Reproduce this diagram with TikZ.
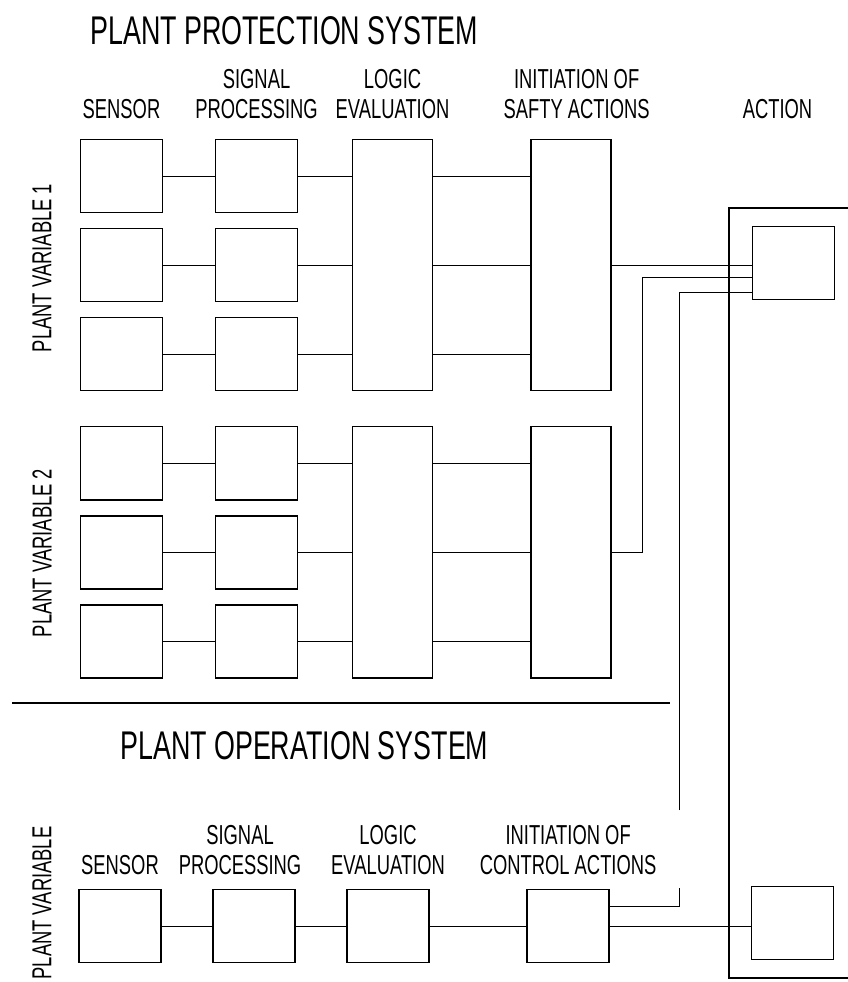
\documentclass[tikz,border=0pt]{standalone}
\usepackage{fontspec}
\setmainfont{Liberation Sans}[FakeStretch=0.67]
\usetikzlibrary{positioning, calc}

\begin{document}
\begin{tikzpicture}[
        x=0.025cm, y=-0.025cm,
        unit/.style={rectangle, draw=black, line width=1.3pt, minimum width=2.05cm, minimum height=1.825cm, inner sep=0pt, outer sep=0pt},
        tallunit/.style={unit, minimum width=2.0cm, minimum height=6.275cm},
        head/.style={inner sep=0pt, align=center, font=\fontsize{19.5}{21.3}\selectfont},
        title/.style={inner sep=0pt, anchor=base west, font=\fontsize{28.5}{30}\selectfont},
        line/.style={draw, line width=0.7pt},
        frame/.style={draw, line width=1.3pt}
    ]
        \useasboundingbox (0,0) rectangle (848,982);
        \clip (0,0) rectangle (848,982);

        % plant protection system
        \node [title] (pps) at (90,44) {PLANT PROTECTION SYSTEM};

        \node [unit] (sen1) at (121.5,176) {};
        \node [unit, below=0.4cm of sen1] (sen2) {};
        \node [unit, below=0.4cm of sen2] (sen3) {};
        \node [unit, below=0.9cm of sen3] (sen4) {};
        \node [unit, below=0.4cm of sen4] (sen5) {};
        \node [unit, below=0.4cm of sen5] (sen6) {};

        \node [unit, right=1.325cm of sen1] (sig1) {};
        \node [unit, right=1.325cm of sen2] (sig2) {};
        \node [unit, right=1.325cm of sen3] (sig3) {};
        \node [unit, right=1.325cm of sen4] (sig4) {};
        \node [unit, right=1.325cm of sen5] (sig5) {};
        \node [unit, right=1.325cm of sen6] (sig6) {};

        \node [tallunit, right=1.375cm of sig2] (log1) {};
        \node [tallunit, right=1.375cm of sig5] (log2) {};
        \node [tallunit, right=2.45cm of log1] (saf1) {};
        \node [tallunit, right=2.45cm of log2] (saf2) {};

        \node [head, above=0.52cm of sen1] (hsen) {SENSOR};
        \node [head, above=0.52cm of sig1] (hsig) {SIGNAL\\PROCESSING};
        \node [head, above=0.52cm of log1] (hlog) {LOGIC\\EVALUATION};
        \node [head, above=0.52cm of saf1, xshift=0.15cm] (hsaf) {INITIATION OF\\SAFTY ACTIONS};

        \node [head, rotate=90] (pv1) at (42,268) {PLANT VARIABLE 1};
        \node [head, rotate=90] (pv2) at (42,553) {PLANT VARIABLE 2};

        \path [line] (sen1) -- (sig1);
        \path [line] (sen2) -- (sig2);
        \path [line] (sen3) -- (sig3);
        \path [line] (sen4) -- (sig4);
        \path [line] (sen5) -- (sig5);
        \path [line] (sen6) -- (sig6);

        \path [line] (sig1) -- (sig1 -| log1.west);
        \path [line] (sig2) -- (sig2 -| log1.west);
        \path [line] (sig3) -- (sig3 -| log1.west);
        \path [line] (sig4) -- (sig4 -| log2.west);
        \path [line] (sig5) -- (sig5 -| log2.west);
        \path [line] (sig6) -- (sig6 -| log2.west);

        \path [line] (sig1 -| log1.east) -- (sig1 -| saf1.west);
        \path [line] (sig2 -| log1.east) -- (sig2 -| saf1.west);
        \path [line] (sig3 -| log1.east) -- (sig3 -| saf1.west);
        \path [line] (sig4 -| log2.east) -- (sig4 -| saf2.west);
        \path [line] (sig5 -| log2.east) -- (sig5 -| saf2.west);
        \path [line] (sig6 -| log2.east) -- (sig6 -| saf2.west);

        % action side
        \path [frame] (860,208) -| (729,978) -- (860,978);
        \node [unit] (act1) at (793.5,263) {};
        \node [unit] (act2) at (792.5,923) {};
        \node [head, anchor=south, xshift=-0.4cm] (hact) at (hsen.south -| act1) {ACTION};

        % plant operation system
        \coordinate (sepl) at (12,703);
        \coordinate (sepr) at (670,703);
        \path [frame] (sepl) -- (sepr);
        \node [title] (pos) at (120,759) {PLANT OPERATION SYSTEM};

        \node [unit] (bsen) at (120,926) {};
        \node [unit, right=1.3cm of bsen] (bsig) {};
        \node [unit, right=1.3cm of bsig] (blog) {};
        \node [unit, right=2.45cm of blog] (bctl) {};

        \node [head, above=0.35cm of bsen] (hbsen) {SENSOR};
        \node [head, above=0.35cm of bsig, xshift=-0.35cm] (hbsig) {SIGNAL\\PROCESSING};
        \node [head, above=0.35cm of blog] (hblog) {LOGIC\\EVALUATION};
        \node [head, above=0.35cm of bctl] (hbctl) {INITIATION OF\\CONTROL ACTIONS};
        \node [head, rotate=90] (pv) at (42,903) {PLANT VARIABLE};

        \path [line] (bsen) -- (bsig);
        \path [line] (bsig) -- (blog);
        \path [line] (blog) -- (bctl);
        \path [line] (bctl) -- (bctl -| act2.west);

        % links into the upper action
        \coordinate (gapbot) at (679,888);
        \coordinate (gaptop) at (679,810);
        \path [line] (saf1) -- (saf1 -| act1.west);
        \path [line] (saf2.east) -- ++(32,0) |- ($(act1.west)+(0,14)$);
        \path [line] ($(bctl.east)+(0,-20)$) -| (gapbot);
        \path [line] (gaptop) |- ($(act1.west)+(0,29)$);
    \end{tikzpicture}
\end{document}
